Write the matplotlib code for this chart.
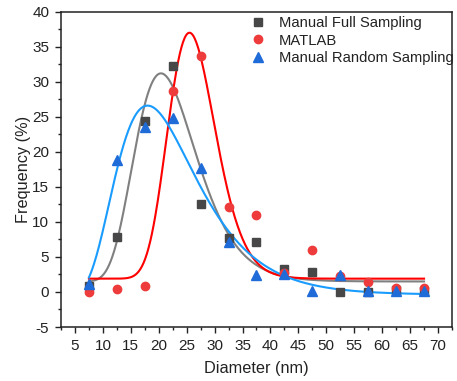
import numpy as np
import matplotlib
matplotlib.use("Agg")
import matplotlib.pyplot as plt
from matplotlib.ticker import MultipleLocator

plt.rcParams["font.family"] = ["Liberation Sans", "DejaVu Sans"]
plt.rcParams["axes.unicode_minus"] = False

# Bin centres of the size histogram (nm)
diameter = [7.5, 12.5, 17.5, 22.5, 27.5, 32.5, 37.5, 42.5, 47.5, 52.5, 57.5, 62.5, 67.5]

# Frequencies (%) for each counting method
full_sampling = [0.8, 7.8, 24.4, 32.2, 12.6, 7.7, 7.2, 3.3, 2.9, 0.0, 0.0, 0.3, 0.2]
matlab = [0.0, 0.4, 0.8, 28.7, 33.7, 12.1, 11.0, 2.7, 6.0, 2.3, 1.4, 0.5, 0.6]
random_sampling = [1.2, 18.8, 23.6, 24.8, 17.7, 7.1, 2.4, 2.5, 0.1, 2.4, 0.1, 0.1, 0.1]

# Log-normal fit parameters: baseline, peak height above baseline, mode (nm), width
fit_full = (1.5, 29.7, 20.4, 0.27)
fit_matlab = (1.9, 35.1, 25.5, 0.166)
fit_random = (-0.4, 27.0, 18.0, 0.40)

series_names = ["Manual Full Sampling", "MATLAB", "Manual Random Sampling"]


def lognormal(x, params):
    y0, height, mode, width = params
    return y0 + height * np.exp(-np.log(x / mode) ** 2 / (2 * width ** 2))


fig = plt.figure(figsize=(4.57, 3.81), dpi=100)
ax = fig.add_axes([0.1335, 0.1417, 0.8555, 0.8276])

xs = np.linspace(diameter[0], diameter[-1], 400)
ax.plot(xs, lognormal(xs, fit_full), color="#808080", lw=1.5, zorder=2)
ax.plot(xs, lognormal(xs, fit_matlab), color="#ff0000", lw=1.5, zorder=2)
ax.plot(xs, lognormal(xs, fit_random), color="#1a9cff", lw=1.5, zorder=2)

ax.plot(diameter, full_sampling, ls="none", marker="s", ms=5.5,
        color="#474747", label=series_names[0], zorder=3)
ax.plot(diameter, matlab, ls="none", marker="o", ms=6,
        color="#ee3b3b", label=series_names[1], zorder=4)
ax.plot(diameter, random_sampling, ls="none", marker="^", ms=6.5,
        color="#1f6bd8", label=series_names[2], zorder=5)

ax.set_xlim(2.5, 72.5)
ax.set_ylim(-5, 40)
ax.xaxis.set_major_locator(MultipleLocator(5))
ax.xaxis.set_minor_locator(MultipleLocator(2.5))
ax.yaxis.set_major_locator(MultipleLocator(5))
ax.yaxis.set_minor_locator(MultipleLocator(2.5))
ax.tick_params(which="both", direction="out", top=False, right=False,
               width=1, labelsize=11, colors="#222222", pad=4)
ax.tick_params(which="major", length=4.5)
ax.tick_params(which="minor", length=2.5)
for s in ax.spines.values():
    s.set_linewidth(1.1)
    s.set_color("#222222")

ax.set_xlabel("Diameter (nm)", fontsize=11.7, color="#222222", labelpad=6)
ax.set_ylabel("Frequency (%)", fontsize=11.7, color="#222222", labelpad=1)

leg = ax.legend(loc="upper left", bbox_to_anchor=(0.48, 0.991), frameon=False,
                fontsize=10.6, handlelength=1.0, handletextpad=0.95,
                labelspacing=0.24, borderpad=0.1, borderaxespad=0.0)
for t in leg.get_texts():
    t.set_color("#222222")

fig.savefig("out.png", dpi=100)
